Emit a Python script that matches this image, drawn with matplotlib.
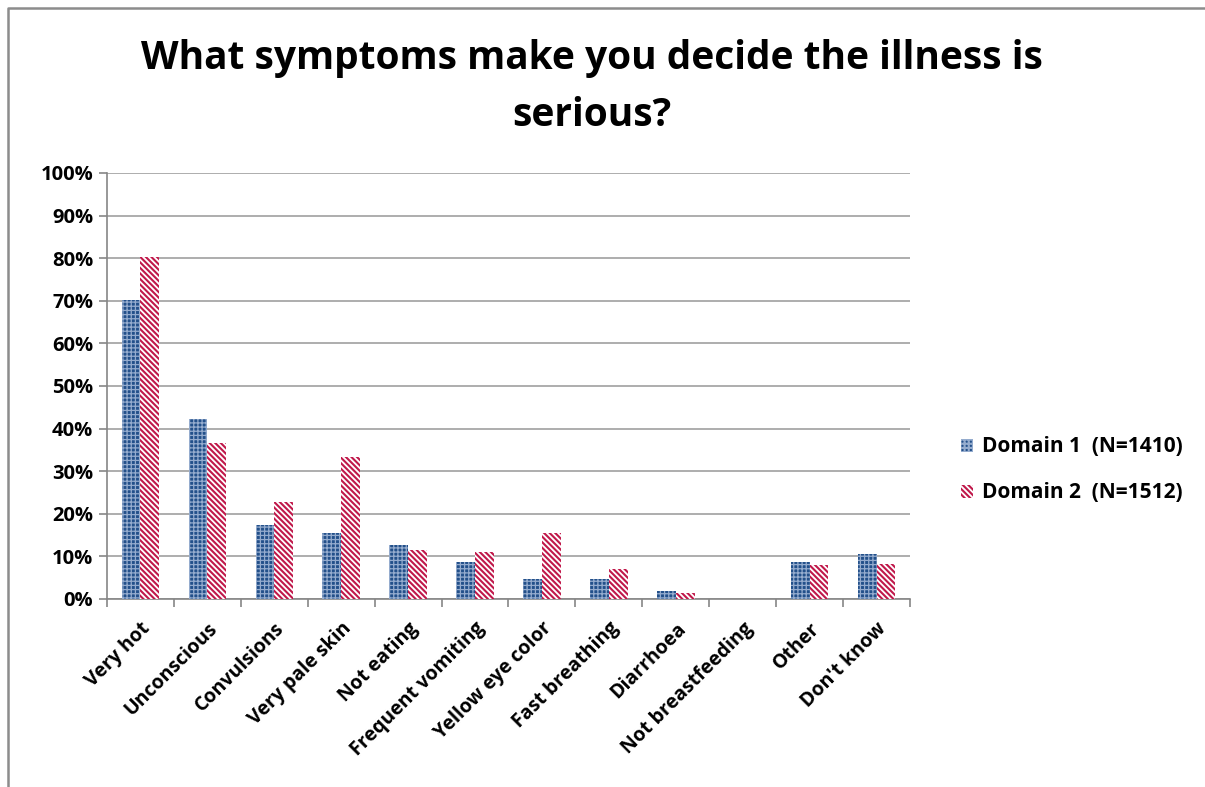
import numpy as np
import matplotlib
matplotlib.use("Agg")
from matplotlib import pyplot as plt
from matplotlib.lines import Line2D

# data
categories = ["Very hot", "Unconscious", "Convulsions", "Very pale skin", "Not eating",
              "Frequent vomiting", "Yellow eye color", "Fast breathing", "Diarrhoea",
              "Not breastfeeding", "Other", "Don't know"]
domain1 = [70.2, 42.3, 17.4, 15.5, 12.7, 8.7, 4.7, 4.7, 1.8, 0.0, 8.7, 10.5]
domain2 = [80.3, 36.6, 22.8, 33.3, 11.5, 11.0, 15.5, 7.0, 1.5, 0.0, 7.9, 8.2]
labels = ["Domain 1  (N=1410)", "Domain 2  (N=1512)"]
yticks = [0, 10, 20, 30, 40, 50, 60, 70, 80, 90, 100]

plt.rcParams['font.family'] = ['Open Sans', 'DejaVu Sans']

fig = plt.figure(figsize=(12.05, 7.87), dpi=100)
ax = fig.add_axes([107/1205, 1 - 599/787, (910-107)/1205, (599-173)/787])

x = np.arange(len(categories))
w = 0.28
plt.rcParams['hatch.linewidth'] = 0.9
b1 = ax.bar(x - w/2, domain1, w, facecolor='#23508a', edgecolor='#95acce',
            hatch='++++', linewidth=0, label=labels[0], zorder=3)
plt.rcParams['hatch.linewidth'] = 1.5
b2 = ax.bar(x + w/2, domain2, w, facecolor='white', edgecolor='#c0184a',
            hatch='\\' * 6, linewidth=0, label=labels[1], zorder=3)

ax.set_xlim(-0.5, len(categories) - 0.5)
ax.set_ylim(0, 100)
ax.set_yticks(yticks)
ax.set_yticklabels([f"{v}%" for v in yticks], fontsize=14.5, fontweight='bold')
ax.set_xticks(x)
ax.set_xticklabels(categories, rotation=45, ha='right', rotation_mode='anchor',
                   fontsize=14, fontweight='bold')
ax.tick_params(axis='x', length=0, pad=14)
ax.set_xticks(np.arange(-0.5, len(categories)), minor=True)
ax.tick_params(axis='x', which='minor', length=6, color='#868686', width=1.2)
ax.tick_params(axis='y', length=6, color='#868686', width=1.2, pad=4)

ax.grid(axis='y', color='#a0a0a0', linewidth=1.2, zorder=0)
ax.set_axisbelow(True)
for s in ['top', 'right']:
    ax.spines[s].set_visible(False)
for s in ['left', 'bottom']:
    ax.spines[s].set_color('#868686')
    ax.spines[s].set_linewidth(1.2)

fig.text(592/1205, 1 - 58/787, "What symptoms make you decide the illness is",
         ha='center', va='center', fontsize=28, fontweight='bold')
fig.text(592/1205, 1 - 115/787, "serious?",
         ha='center', va='center', fontsize=28, fontweight='bold')

leg = fig.legend(handles=[b1, b2], loc='center left', bbox_to_anchor=(942/1205, 1 - 470/787),
                 frameon=False, prop={'size': 15, 'weight': 'bold'}, handlelength=0.6,
                 handleheight=0.6, handletextpad=0.4, labelspacing=1.2)

# chart frame (left and top edges only are visible)
fy = 1 - 8/787
fx = 8/1205
fig.lines.append(Line2D([fx, fx, 1], [0, fy, fy], transform=fig.transFigure,
                        color='#8c8c8c', linewidth=1.8))

fig.savefig("out.png", dpi=100)
